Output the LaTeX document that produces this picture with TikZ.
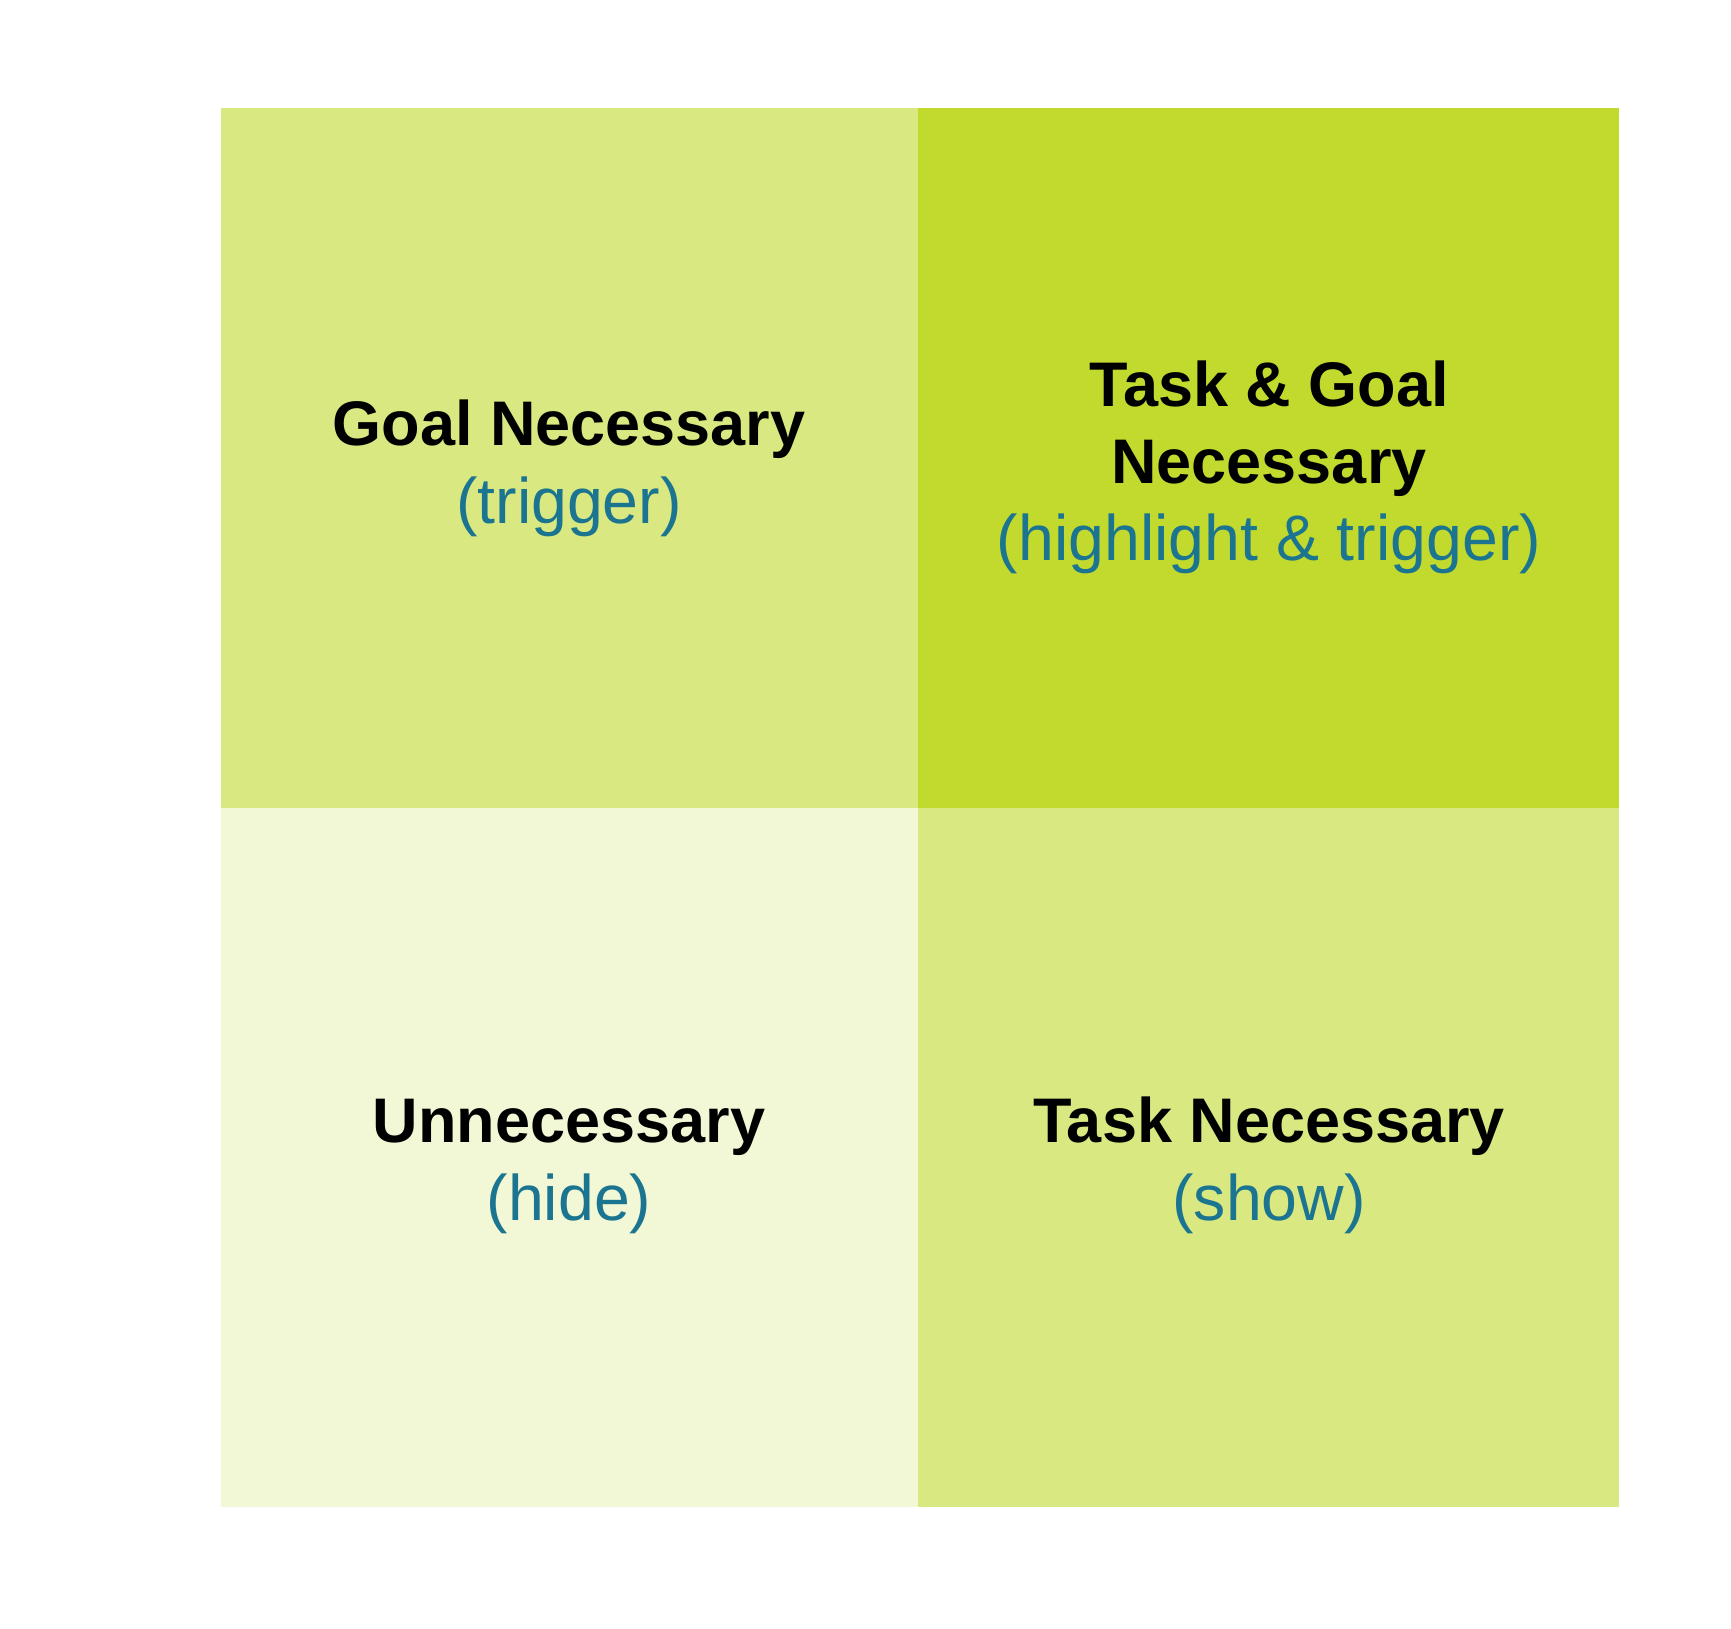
\documentclass[tikz,border=0pt]{standalone}
\usepackage{fontspec}
\setmainfont{Liberation Sans}
\definecolor{midgreen}{HTML}{DAE882}
\definecolor{darkgreen}{HTML}{C2DA2E}
\definecolor{palegreen}{HTML}{F2F7D6}
\definecolor{labelblue}{HTML}{1B7590}
\tikzset{
  title/.style={anchor=base,inner sep=0pt,font=\fontsize{31.5}{39}\selectfont\bfseries,text=black},
  sub/.style={anchor=base,inner sep=0pt,font=\fontsize{32.2}{39}\selectfont,text=labelblue}
}
\begin{document}
\begin{tikzpicture}[x=0.5pt,y=-0.5pt]
\useasboundingbox (0,0) rectangle (1731,1629);
\fill[midgreen] (221,108) rectangle (918,808);
\fill[darkgreen] (918,108) rectangle (1619,808);
\fill[palegreen] (221,808) rectangle (918,1507);
\fill[midgreen] (918,808) rectangle (1619,1507);
\node[title] (gn) at (569,445) {Goal Necessary};
\node[sub] (gns) at (569,523) {(trigger)};
\node[title] (tg1) at (1269,406) {Task \& Goal};
\node[title] (tg2) at (1269,483) {Necessary};
\node[sub] (tgs) at (1269,560) {(highlight \& trigger)};
\node[title] (un) at (569,1142) {Unnecessary};
\node[sub] (uns) at (569,1220) {(hide)};
\node[title] (tn) at (1269,1142) {Task Necessary};
\node[sub] (tns) at (1269,1220) {(show)};
\end{tikzpicture}
\end{document}
